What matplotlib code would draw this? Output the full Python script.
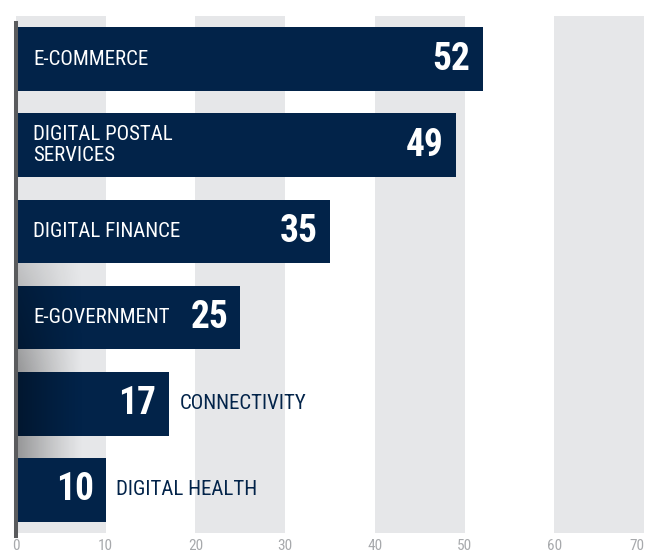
import matplotlib
matplotlib.use("Agg")
import matplotlib.pyplot as plt
import numpy as np
from matplotlib import font_manager

# data
categories = ["E-COMMERCE", "DIGITAL POSTAL\nSERVICES", "DIGITAL FINANCE",
              "E-GOVERNMENT", "CONNECTIVITY", "DIGITAL HEALTH"]
values = [52, 49, 35, 25, 17, 10]
label_inside = [True, True, True, True, False, False]
xticks = [0, 10, 20, 30, 40, 50, 60, 70]

NAVY = "#022349"
BAND = "#e6e7e9"
AXIS = "#5a5b5d"
TICK = "#a7a9ac"

# pick a narrow font if one is installed
installed = {f.name for f in font_manager.fontManager.ttflist}
cond = "DejaVu Sans"
for name in ["Roboto Condensed", "Liberation Sans Narrow", "DejaVu Sans Condensed",
             "Open Sans Condensed", "Liberation Sans"]:
    if name in installed:
        cond = name
        break

fig = plt.figure(figsize=(6.49, 5.55), dpi=100)
ax = fig.add_axes([16 / 649, 22 / 555, 628 / 649, 517 / 555])

# grey bands every other 10 units
for lo in xticks[:-1:2]:
    ax.axvspan(lo, lo + 10, color=BAND, lw=0, zorder=0)

y = np.arange(len(values))
ax.barh(y, values, height=0.74, color=NAVY, zorder=2)

# soft shadow near the axis on the lower bars
xs = np.linspace(0, 8, 200)
ys = np.linspace(2.37, 4.63, 200)
ax_x = np.clip(1 - xs / 7.5, 0, 1) ** 1.2
ay = np.interp(ys, [2.37, 3.6, 4.63], [0.45, 1.0, 1.0])
alpha = 0.36 * np.outer(ay, ax_x)
shadow = np.zeros((len(ys), len(xs), 4))
shadow[..., 3] = alpha
ax.imshow(shadow, extent=(0, 8, 4.63, 2.37), aspect="auto", zorder=3,
          interpolation="bilinear")

ax.axvline(0, ymin=-0.006, ymax=0.986, color=AXIS, lw=2.9, zorder=4, clip_on=False)

for i, (cat, v, inside) in enumerate(zip(categories, values, label_inside)):
    ax.text(v - 1.35, i, str(v), ha="right", va="center", color="white",
            fontsize=27, fontweight="bold", family=cond, zorder=5)
    if inside:
        ax.text(1.9, i, cat, ha="left", va="center", color="white",
                fontsize=15, family=cond, linespacing=1.1, zorder=5)
    else:
        ax.text(v + 1.2, i, cat, ha="left", va="center", color=NAVY,
                fontsize=15, family=cond, zorder=5)

ax.set_xlim(0, 70)
ax.set_ylim(5.5, -0.5)
ax.set_yticks([])
ax.set_xticks(xticks)
labels = ax.set_xticklabels([str(t) for t in xticks], family=cond, fontsize=11, color=TICK)
labels[-1].set_ha("right")
ax.tick_params(axis="x", length=0, pad=4)
for s in ax.spines.values():
    s.set_visible(False)

fig.savefig("out.png", dpi=100)
